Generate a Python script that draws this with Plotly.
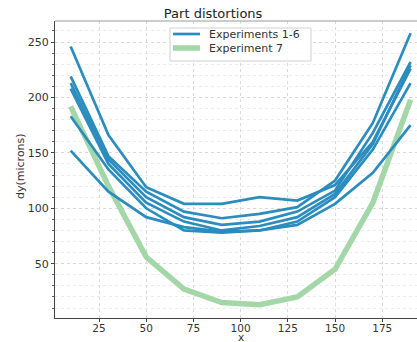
import plotly.graph_objects as go

x_vals = [10, 30, 50, 70, 90, 110, 130, 150, 170, 190]
exp1 = [246, 166, 119, 104, 104, 110, 107, 121, 160, 226]
exp2 = [219, 147, 115, 97, 91, 95, 101, 125, 177, 258]
exp3 = [213, 144, 110, 92, 85, 88, 97, 116, 168, 232]
exp4 = [208, 140, 105, 88, 80, 84, 92, 113, 158, 229]
exp5 = [183, 135, 100, 80, 78, 80, 88, 110, 153, 213]
exp6 = [152, 115, 92, 83, 79, 80, 85, 104, 132, 175]
exp7 = [192, 120, 56, 27, 15, 13, 20, 45, 105, 198]
blue_series = [exp1, exp2, exp3, exp4, exp5, exp6]
legend_labels = ["Experiments 1-6", "Experiment 7"]

BLUE = "#2b8cbe"
GREEN = "#a3d7a8"

fig = go.Figure()
fig.add_trace(go.Scatter(x=x_vals, y=exp7, mode="lines", name=legend_labels[1],
                         line=dict(color=GREEN, width=5.5), showlegend=False))
for i, s in enumerate(blue_series):
    fig.add_trace(go.Scatter(x=x_vals, y=s, mode="lines", name=legend_labels[0],
                             line=dict(color=BLUE, width=2.7), showlegend=False))

W, H = 417, 342
ML, MR, MT, MB = 55, 0, 21, 24
PW, PH = W - ML - MR, H - MT - MB


def px(xp):
    return (xp - ML) / PW


def py(yp):
    return (H - MB - yp) / PH


fig.update_layout(
    width=W, height=H,
    margin=dict(l=ML, r=MR, t=MT, b=MB),
    paper_bgcolor="white", plot_bgcolor="white",
    font=dict(family="DejaVu Sans", size=11, color="#333"),
    title=dict(text="Part distortions", x=px(240), xanchor="center", y=(H - 13) / H,
               yanchor="middle", font=dict(size=13, color="#222")),
    showlegend=False,
)
fig.update_xaxes(
    range=[1.7, 193.4], dtick=25, tick0=0, automargin=False,
    showline=True, linecolor="#444", linewidth=1.2,
    ticks="outside", ticklen=3, tickcolor="#444", ticklabelstandoff=-3,
    tickfont=dict(size=10.5),
    showgrid=True, gridcolor="#d9d9d9", griddash="dot", gridwidth=1,
    zeroline=False,
)
fig.update_yaxes(
    range=[1, 269], dtick=50, tick0=0, automargin=False,
    showline=True, linecolor="#444", linewidth=1.2,
    ticks="outside", ticklen=3, tickcolor="#444",
    showgrid=True, gridcolor="#d9d9d9", griddash="dot", gridwidth=1,
    zeroline=False,
    minor=dict(dtick=10, ticks="outside", ticklen=2, tickcolor="#666",
               showgrid=True, gridcolor="#ececec", griddash="dot"),
)
# top frame line
fig.add_shape(type="line", xref="paper", yref="paper", x0=0, x1=1, y0=1, y1=1,
              line=dict(color="#999", width=1.2))

# axis titles
fig.add_annotation(text="x", xref="paper", yref="paper", x=px(241), y=py(341.5),
                   showarrow=False, xanchor="center", yanchor="bottom", borderpad=0,
                   height=9, valign="middle",
                   font=dict(size=10.5, color="#333"))
fig.add_annotation(text="dy(microns)", xref="paper", yref="paper", x=px(20), y=py(166),
                   showarrow=False, xanchor="center", yanchor="middle", textangle=-90,
                   font=dict(size=11, color="#333"))

# legend box
fig.add_shape(type="rect", xref="paper", yref="paper",
              x0=px(170), x1=px(311), y0=py(61), y1=py(28),
              line=dict(color="#d0d0d0", width=1), fillcolor="rgba(255,255,255,0.85)",
              layer="above")
legend_colors = [BLUE, GREEN]
legend_widths = [2.7, 5.5]
legend_rows = [34, 48]
for lab, col, lw, yr in zip(legend_labels, legend_colors, legend_widths, legend_rows):
    fig.add_shape(type="line", xref="paper", yref="paper",
                  x0=px(173), x1=px(200), y0=py(yr), y1=py(yr),
                  line=dict(color=col, width=lw), layer="above")
    fig.add_annotation(text=lab, xref="paper", yref="paper", x=px(207), y=py(yr),
                       showarrow=False, xanchor="left", yanchor="middle",
                       font=dict(size=11, color="#333"))

fig.write_html("out.html", config={"displayModeBar": False},
               post_script="document.body.style.margin='0';document.body.style.overflow='hidden';")
